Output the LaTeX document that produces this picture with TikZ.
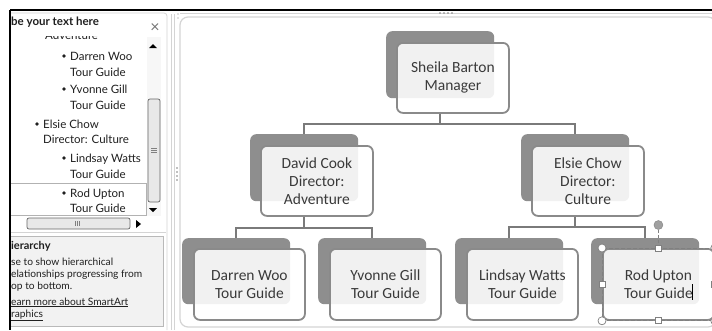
\documentclass[tikz,border=0pt]{standalone}
\usepackage{fontspec}
\setmainfont{Carlito}
\newfontfamily\orgfam{Carlito}
\newfontfamily\uifam{Lato}
\usetikzlibrary{calc}
\definecolor{backgray}{HTML}{8E8E8E}
\definecolor{edgegray}{HTML}{8A8A8A}
\definecolor{conngray}{HTML}{7A7A7A}
\definecolor{txtgray}{HTML}{3A3A3A}
\definecolor{paneltxt}{HTML}{202020}
\definecolor{lightline}{HTML}{D4D4D4}
\definecolor{descfill}{HTML}{F2F2F2}
\definecolor{thumbfill}{HTML}{E8E8E8}
\definecolor{handlegray}{HTML}{A0A0A0}
\tikzset{
  backbox/.style={fill=backgray, draw=none, rounded corners=6pt, inner sep=0pt,
    minimum width=108pt, minimum height=67pt, anchor=north west},
  backboxs/.style={backbox, minimum height=66pt},
  frontbox/.style={draw=edgegray, line width=1.8pt, fill=white, fill opacity=0.88,
    text opacity=1, rounded corners=6pt, inner sep=0pt, minimum width=112pt,
    minimum height=70pt, anchor=north west, align=center, text=txtgray,
    font=\orgfam\fontsize{15.5}{18}\selectfont},
  frontboxs/.style={frontbox, minimum width=111pt, minimum height=71pt},
  conn/.style={draw=conngray, line width=2.2pt},
  ptxt/.style={anchor=base west, inner sep=0pt, text=paneltxt,
    font=\uifam\fontsize{11.5}{14}\selectfont},
  dtxt/.style={anchor=base west, inner sep=0pt, text=paneltxt,
    font=\uifam\fontsize{10.2}{12}\selectfont},
  bul/.style={fill=paneltxt, circle, inner sep=0pt, minimum size=3.6pt},
  handlec/.style={circle, draw=gray, fill=white, line width=0.7pt, inner sep=0pt, minimum size=8pt},
  handles/.style={rectangle, draw=gray, fill=white, line width=0.7pt, inner sep=0pt, minimum size=6pt},
}
\begin{document}
\begin{tikzpicture}[x=1pt,y=-1pt]
\useasboundingbox (0,0) rectangle (712,330);
\fill[white] (0,0) rectangle (712,330);

% ---------------- left task pane ----------------
\draw[lightline, line width=0.8pt, rounded corners=3pt] (10,13) -- (167,13) -- (167,330);
\node[anchor=base west, inner sep=0pt, text=paneltxt, font=\uifam\bfseries\fontsize{11.5}{14}\selectfont] (hdr) at (11,25) {be your text here};
\node[anchor=center, inner sep=0pt, text=gray!90!black, font=\uifam\fontsize{16}{16}\selectfont] (close) at (155,28) {×};

% list area
\begin{scope}
\clip (10,36) rectangle (146,232);
\node[ptxt] (adv) at (45,39) {Adventure};
\end{scope}
\draw[gray!60, line width=0.7pt] (10,183) rectangle (146,215);

\node[bul] (b1) at (64,56) {};
\node[ptxt] (t1a) at (70,60) {Darren Woo};
\node[ptxt] (t1b) at (70,76) {Tour Guide};
\node[bul] (b2) at (64,89) {};
\node[ptxt] (t2a) at (70,93) {Yvonne Gill};
\node[ptxt] (t2b) at (70,109) {Tour Guide};
\node[bul] (b3) at (37,124) {};
\node[ptxt] (t3a) at (43,128) {Elsie Chow};
\node[ptxt] (t3b) at (43,143) {Director: Culture};
\node[bul] (b4) at (64,158) {};
\node[ptxt] (t4a) at (70,162) {Lindsay Watts};
\node[ptxt] (t4b) at (70,178) {Tour Guide};
\node[bul] (b5) at (64,193) {};
\node[ptxt] (t5a) at (70,197) {Rod Upton};
\node[ptxt] (t5b) at (70,212) {Tour Guide};

% vertical scrollbar
\fill[gray!6] (147,37) rectangle (161,216);
\fill[black] (149,48) -- (157,48) -- (153,44) -- cycle;
\fill[black] (149,208) -- (157,208) -- (153,212) -- cycle;
\draw[gray!80!black, fill=thumbfill, line width=0.7pt, rounded corners=2pt] (148,99) rectangle (160,202);
\foreach \yy in {148,150,152} \draw[gray, line width=0.5pt] (151,\yy) -- (157,\yy);

% horizontal scrollbar
\draw[gray!80!black, fill=thumbfill, line width=0.7pt, rounded corners=2pt] (27,218) rectangle (130,229);
\foreach \xx in {75,77,79} \draw[gray, line width=0.5pt] (\xx,221) -- (\xx,226);
\fill[black] (136,220) -- (136,228) -- (141,224) -- cycle;
\draw[lightline, line width=0.6pt] (10,232) -- (166,232);

% description box
\draw[draw=gray!55, fill=descfill, line width=0.7pt] (10,236) rectangle (163,326);
\node[anchor=base west, inner sep=0pt, text=paneltxt, font=\uifam\bfseries\fontsize{11}{13}\selectfont] (dh) at (11,249) {ierarchy};
\node[dtxt] (d1) at (11,265) {se to show hierarchical};
\node[dtxt] (d2) at (11,277) {elationships progressing from};
\node[dtxt] (d3) at (11,289) {op to bottom.};
\node[dtxt] (d4) at (11,305) {\underline{earn more about SmartArt}};
\node[dtxt] (d5) at (11,317) {\underline{raphics}};

% frame lines
\draw[black, line width=1.6pt] (10,10) -- (712,10);
\draw[black, line width=1.6pt] (10,10) -- (10,330);

% splitter
\draw[lightline, line width=0.7pt] (171,14) -- (171,330);
\draw[lightline, line width=0.7pt] (174,14) -- (174,330);
\foreach \yy in {168,172,176,180} \fill[gray] (177,\yy) circle (0.8pt);
\foreach \yy in {14,18} \fill[gray] (178,\yy) circle (0.7pt);

% ---------------- canvas ----------------
\draw[lightline, line width=1pt] (180,13.5) -- (712,13.5);
\draw[lightline, line width=1.2pt, rounded corners=8pt] (180,17) rectangle (716,327);
\foreach \xx in {440,444,448,452} \fill[gray] (\xx,13) circle (0.8pt);

% ---------------- org chart ----------------
\node[backbox] (mb) at (386,31) {};
\node[frontbox] (m) at (396,42) {Sheila Barton\\Manager};

\node[backbox] (db) at (250,134) {};
\node[frontbox] (d) at (260,145) {David Cook\\Director:\\Adventure};
\node[backbox] (eb) at (521,134) {};
\node[frontbox] (e) at (531,145) {Elsie Chow\\Director:\\Culture};

\node[backboxs] (darb) at (182,238) {};
\node[frontboxs] (dar) at (193,248) {Darren Woo\\Tour Guide};
\node[backboxs] (yvb) at (318,238) {};
\node[frontboxs] (yv) at (329,248) {Yvonne Gill\\Tour Guide};
\node[backboxs] (lib) at (455,238) {};
\node[frontboxs] (li) at (466,248) {Lindsay Watts\\Tour Guide};
\node[backboxs] (rob) at (591,238) {};
\node[frontboxs] (ro) at (602,248) {Rod Upton\\Tour Guide};

% connectors
\draw[conn] (mb.south |- m.south) -- ++(0,10) coordinate (mj) -| (db.north);
\draw[conn] (mj) -| (eb.north);
\draw[conn] (db.south |- d.south) -- ++(0,11) coordinate (dj) -| (darb.north);
\draw[conn] (dj) -| (yvb.north);
\draw[conn] (eb.south |- e.south) -- ++(0,10) coordinate (ej) -| (lib.north);
\draw[conn] (ej) -| (rob.north);

% selection of Rod Upton
\draw[gray, dashed, line width=0.8pt, dash pattern=on 4pt off 2pt] (ro.north west) rectangle (ro.south east);
\coordinate (rot) at ($(ro.north)+(0,-23)$);
\draw[gray, dashed, line width=0.8pt, dash pattern=on 3pt off 2pt] (ro.north) -- (rot);
\node[circle, fill=handlegray, draw=gray, inner sep=0pt, minimum size=9pt] (roth) at (rot) {};
\node[handlec] (h1) at (ro.north west) {};
\node[handlec] (h2) at (ro.north east) {};
\node[handlec] (h3) at (ro.south west) {};
\node[handlec] (h4) at (ro.south east) {};
\node[handles] (h5) at (ro.north) {};
\node[handles] (h6) at (ro.south) {};
\node[handles] (h7) at (ro.west) {};
\node[handles] (h8) at (ro.east) {};
\draw[black, line width=0.8pt] (692,284) -- (692,300);
\end{tikzpicture}
\end{document}
